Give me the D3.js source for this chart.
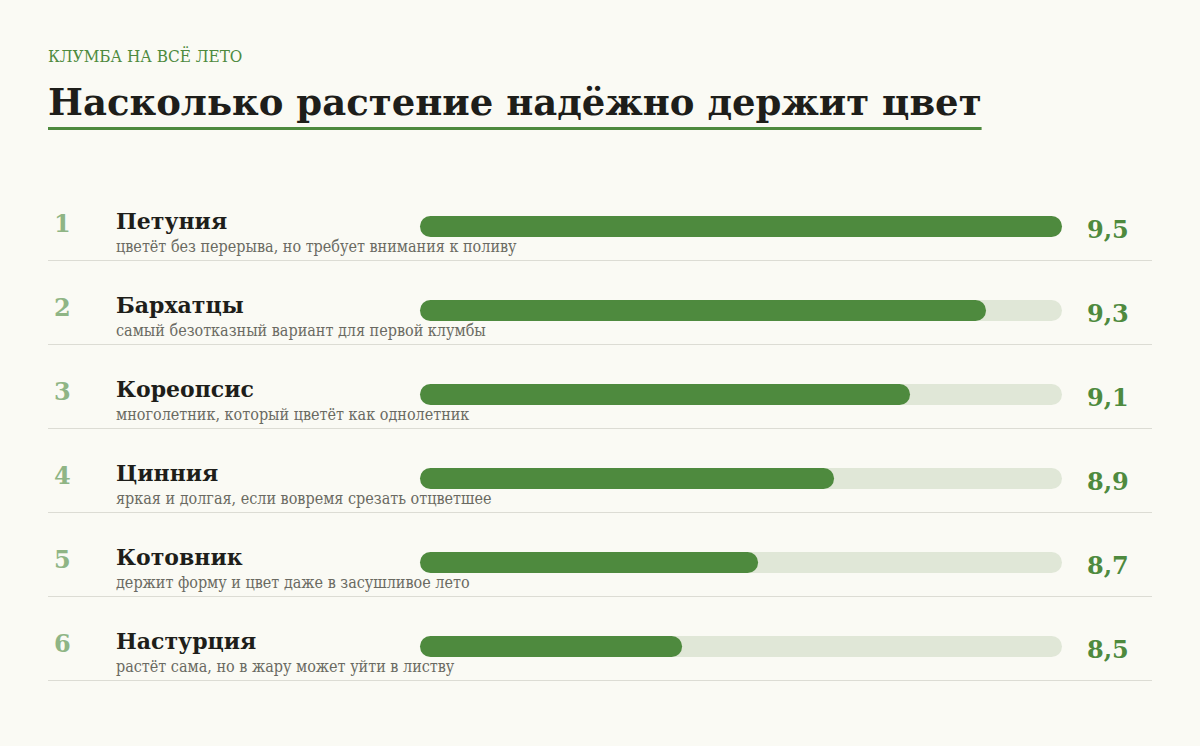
<!DOCTYPE html>
<html><head><meta charset="utf-8">
<script src="https://cdn.jsdelivr.net/npm/d3@7"></script>
<style>body{margin:0;background:#fafaf4}</style>
</head><body>
<svg id="chart" width="1200" height="746"></svg>
<script>
const plants = ["Петуния", "Бархатцы", "Кореопсис", "Цинния", "Котовник", "Настурция"];
const notes = [
  "цветёт без перерыва, но требует внимания к поливу",
  "самый безотказный вариант для первой клумбы",
  "многолетник, который цветёт как однолетник",
  "яркая и долгая, если вовремя срезать отцветшее",
  "держит форму и цвет даже в засушливое лето",
  "растёт сама, но в жару может уйти в листву"
];
const scores = [9.5, 9.3, 9.1, 8.9, 8.7, 8.5];

const green = "#4e8a3e";
const svg = d3.select("#chart");
svg.append("rect").attr("width", 1200).attr("height", 746).attr("fill", "#fafaf4");

svg.append("text").attr("x", 48).attr("y", 62)
  .style("font-family", "DejaVu Serif Condensed, DejaVu Serif").style("font-size", "17px")
  .attr("fill", green).text("КЛУМБА НА ВСЁ ЛЕТО");

const title = svg.append("text").attr("x", 48).attr("y", 115)
  .style("font-family", "DejaVu Serif").style("font-weight", "bold").style("font-size", "37px")
  .attr("fill", "#1e1e1a").text("Насколько растение надёжно держит цвет");
const tw = title.node().getComputedTextLength();
svg.append("rect").attr("x", 48).attr("y", 127).attr("width", tw).attr("height", 3).attr("fill", green);

const x = d3.scaleLinear().domain([7.81, 9.5]).range([420, 1062]);
const y = d3.scaleBand().domain(d3.range(plants.length)).range([184, 688]);

const row = svg.selectAll("g.row").data(plants).enter().append("g")
  .attr("class", "row").attr("transform", (d, i) => `translate(0,${y(i)})`);

row.append("text").attr("x", 54).attr("y", 48)
  .style("font-family", "DejaVu Serif").style("font-weight", "bold").style("font-size", "24px")
  .attr("fill", "#8fb585").text((d, i) => i + 1);

row.append("text").attr("x", 116).attr("y", 45)
  .style("font-family", "DejaVu Serif").style("font-weight", "bold").style("font-size", "22px")
  .attr("fill", "#1e1e1a").text(d => d);

row.append("text").attr("x", 116).attr("y", 68)
  .style("font-family", "DejaVu Serif Condensed, DejaVu Serif").style("font-size", "16px")
  .attr("fill", "#6a6a62").text((d, i) => notes[i]);

row.append("line").attr("x1", 48).attr("x2", 1152).attr("y1", 76.5).attr("y2", 76.5)
  .attr("stroke", "#dcdcd4").attr("stroke-width", 1);

row.append("rect").attr("x", x.range()[0]).attr("y", 32)
  .attr("width", x.range()[1] - x.range()[0]).attr("height", 21).attr("rx", 10.5)
  .attr("fill", "#e0e7d7");

row.append("rect").attr("x", x.range()[0]).attr("y", 32)
  .attr("width", (d, i) => x(scores[i]) - x.range()[0]).attr("height", 21).attr("rx", 10.5)
  .attr("fill", green);

row.append("text").attr("x", 1087).attr("y", 54)
  .style("font-family", "DejaVu Serif").style("font-weight", "bold").style("font-size", "24px")
  .attr("fill", green).text((d, i) => String(scores[i]).replace(".", ","));
</script>
</body></html>
